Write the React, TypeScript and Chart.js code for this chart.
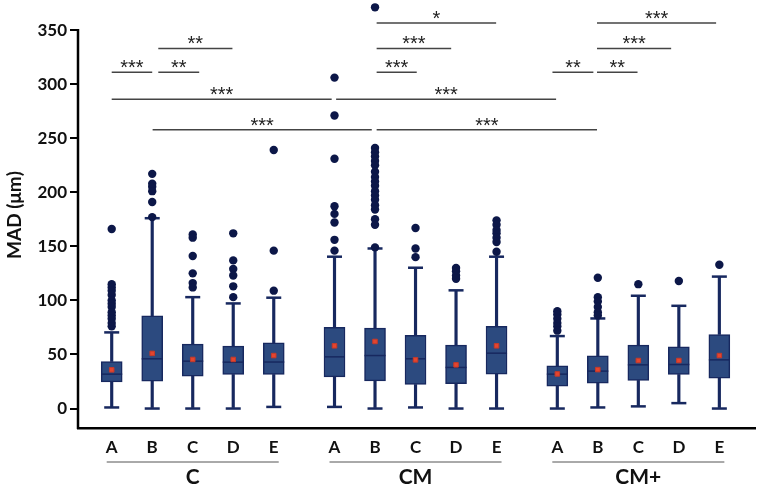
import React, { useEffect, useRef } from 'react';
import { Chart, registerables } from 'chart.js';
Chart.register(...registerables);

const groups = ['C', 'CM', 'CM+'];
const categories = ['A', 'B', 'C', 'D', 'E'];
const yTicks = [0, 50, 100, 150, 200, 250, 300, 350];
const yAxisTop = 350;

const lowerWhisker = [1, 0, 0, 0, 1.5, 1.5, 0, 1, 0, 0, 0, 1, 2, 5, 0];
const q1 = [24.7, 25.3, 30, 31.5, 31.5, 29.3, 25.6, 22.2, 23, 31.8, 20.7, 23.5, 26, 31.5, 28];
const median = [31.8, 46, 43.8, 42.9, 43, 47.8, 49, 46, 38, 51.2, 31.8, 34.6, 40.4, 40.7, 45];
const q3 = [43.5, 85.8, 59.6, 57.7, 60.8, 75, 74.4, 67.6, 58.6, 76, 39.5, 48.8, 58.6, 57, 68.5];
const upperWhisker = [70.4, 176, 103, 97.2, 102.5, 140.4, 148, 130.2, 109.3, 140.4, 67, 83.3, 104.3, 95, 122];
const means = [35.8, 51, 45.4, 45.4, 49, 58, 62, 45, 40.4, 58, 32, 36, 44.4, 44.4, 49];
const outliers = [
  [166, 115, 112, 109, 105, 100, 97, 94, 89, 86, 83, 79, 76],
  [217, 208, 205, 201, 191, 177],
  [161, 158, 141, 125, 116, 112],
  [162, 137, 129, 123, 113, 103],
  [239, 146, 109],
  [306, 271, 231, 187, 180, 172, 156, 146],
  [371, 241, 237, 233, 229, 225, 219, 214, 210, 206, 201, 197, 193, 188, 184, 175, 170, 149],
  [167, 148, 140],
  [130, 127, 123, 120],
  [174, 170, 165, 162, 158, 154, 145],
  [90, 87, 83, 79, 76, 72],
  [121, 103, 99, 94, 89, 86],
  [115],
  [118],
  [133],
];

// significance brackets (x in category-position units, y in MAD units)
const sigFrom = [0, 1.15, 1.15, 0, 5.54, 1.01, 6.54, 6.54, 6.54, 6.54, 10.88, 11.98, 11.98, 11.98];
const sigTo = [1.0, 2.16, 2.98, 5.43, 10.97, 6.42, 11.98, 7.53, 8.38, 9.49, 11.89, 12.98, 13.81, 14.92];
const sigY = [311, 311, 333, 286, 286, 257.7, 257.7, 311, 333, 356.5, 311, 311, 333, 356.5];
const sigLabel = ['***', '**', '**', '***', '***', '***', '***', '***', '***', '*', '**', '**', '***', '***'];

const pos = (i: number) => Math.floor(i / 5) * 5.5 + (i % 5);
const idx = lowerWhisker.map((_, i) => i);
const positions = idx.map(pos);

const NAVY = '#17285f';
const FONT = 'Lato, "Open Sans", sans-serif';

const overlay = {
  id: 'overlay',
  beforeDatasetsDraw(chart: any) {
    const { ctx, scales, chartArea } = chart;
    ctx.save();
    ctx.strokeStyle = '#000';
    ctx.lineWidth = 2.5;
    ctx.beginPath();
    ctx.moveTo(chartArea.left, scales.y.getPixelForValue(yAxisTop) - 1);
    ctx.lineTo(chartArea.left, chartArea.bottom + 1);
    ctx.stroke();
    ctx.restore();
  },
  afterDraw(chart: any) {
    const { ctx, scales } = chart;
    const xs = scales.x;
    const ys = scales.y;
    ctx.save();
    // significance brackets
    ctx.strokeStyle = '#444';
    ctx.lineWidth = 1.5;
    ctx.fillStyle = '#222';
    ctx.font = '20px "Liberation Sans", Arial, sans-serif';
    ctx.textAlign = 'center';
    ctx.textBaseline = 'alphabetic';
    sigFrom.forEach((f, k) => {
      const x1 = xs.getPixelForValue(f);
      const x2 = xs.getPixelForValue(sigTo[k]);
      const y = ys.getPixelForValue(sigY[k]);
      ctx.beginPath();
      ctx.moveTo(x1, y);
      ctx.lineTo(x2, y);
      ctx.stroke();
      ctx.fillText(sigLabel[k], (x1 + x2) / 2, y + 2);
    });
    // group underline + labels
    ctx.strokeStyle = '#555';
    ctx.lineWidth = 1;
    ctx.fillStyle = '#111';
    ctx.font = `bold 21px ${FONT}`;
    ctx.textBaseline = 'middle';
    groups.forEach((g, gi) => {
      const xa = xs.getPixelForValue(pos(gi * 5));
      const xe = xs.getPixelForValue(pos(gi * 5 + 4));
      const xc = xs.getPixelForValue(pos(gi * 5 + 2));
      const yl = chart.chartArea.bottom + 34;
      ctx.beginPath();
      ctx.moveTo(xa - 5, yl);
      ctx.lineTo(xe + 5, yl);
      ctx.stroke();
      ctx.fillText(g, xc, yl + 15);
    });
    // y title
    ctx.font = `bold 19px ${FONT}`;
    ctx.translate(15, 215);
    ctx.rotate(-Math.PI / 2);
    ctx.fillText('MAD (μm)', 0, 0);
    ctx.restore();
  },
};

export default function App() {
  const ref = useRef<HTMLCanvasElement>(null);
  useEffect(() => {
    document.body.style.margin = '0';
    const chart = new Chart(ref.current as HTMLCanvasElement, {
      type: 'bar',
      data: {
        datasets: [
          {
            type: 'bar',
            data: idx.map((i) => ({ x: positions[i], y: [q1[i], q3[i]] })) as any,
            backgroundColor: '#2c4a7f',
            borderColor: NAVY,
            borderWidth: 1.5,
            borderSkipped: false,
            barThickness: 21,
            grouped: false,
            order: 2,
          } as any,
          {
            type: 'bar',
            data: idx.map((i) => ({ x: positions[i], y: [lowerWhisker[i], q1[i]] })) as any,
            backgroundColor: NAVY,
            borderWidth: 0,
            barThickness: 2.5,
            grouped: false,
            order: 3,
          } as any,
          {
            type: 'bar',
            data: idx.map((i) => ({ x: positions[i], y: [q3[i], upperWhisker[i]] })) as any,
            backgroundColor: NAVY,
            borderWidth: 0,
            barThickness: 2.5,
            grouped: false,
            order: 3,
          } as any,
          {
            type: 'scatter',
            data: idx.flatMap((i) => [
              { x: positions[i], y: lowerWhisker[i] },
              { x: positions[i], y: upperWhisker[i] },
            ]),
            pointStyle: 'line',
            pointRadius: 7.5,
            borderWidth: 2.5,
            borderColor: NAVY,
            order: 1,
          } as any,
          {
            type: 'scatter',
            data: idx.map((i) => ({ x: positions[i], y: median[i] })),
            pointStyle: 'line',
            pointRadius: 10.5,
            borderWidth: 1.5,
            borderColor: NAVY,
            order: 1,
          } as any,
          {
            type: 'scatter',
            data: idx.map((i) => ({ x: positions[i], y: means[i] })),
            pointStyle: 'rect',
            pointRadius: 3.2,
            backgroundColor: '#e4452f',
            borderColor: '#c43a2a',
            borderWidth: 1,
            order: 0,
          } as any,
          {
            type: 'scatter',
            data: idx.flatMap((i) => outliers[i].map((v) => ({ x: positions[i], y: v }))),
            pointStyle: 'circle',
            pointRadius: 4.2,
            backgroundColor: '#0c1748',
            borderWidth: 0,
            order: 0,
          } as any,
        ],
      },
      options: {
        responsive: false,
        animation: false,
        events: [],
        layout: { autoPadding: false, padding: { top: 3, right: 3, left: 0, bottom: 0 } },
        plugins: { legend: { display: false }, tooltip: { enabled: false } },
        scales: {
          x: {
            type: 'linear',
            min: -0.832,
            max: 15.88,
            offset: false,
            afterBuildTicks: (s: any) => {
              s.ticks = positions.map((v) => ({ value: v }));
            },
            afterFit: (s: any) => {
              s.height = 60;
              s.paddingLeft = 0;
              s.paddingRight = 0;
            },
            grid: { display: false, drawTicks: false },
            border: { display: true, color: '#000', width: 2.5 },
            ticks: {
              autoSkip: false,
              maxRotation: 0,
              padding: 9,
              color: '#111',
              font: { family: FONT, size: 17, weight: 'bold' },
              callback: (_v: any, i: number) => categories[i % 5],
            },
          },
          y: {
            type: 'linear',
            min: -18,
            max: 375,
            afterBuildTicks: (s: any) => {
              s.ticks = yTicks.map((v) => ({ value: v }));
            },
            afterFit: (s: any) => {
              s.width = 78;
              s.paddingTop = 0;
              s.paddingBottom = 0;
            },
            grid: { drawOnChartArea: false, drawTicks: true, tickLength: 8, color: '#000', lineWidth: 2 },
            border: { display: false },
            ticks: {
              padding: 3,
              color: '#111',
              font: { family: FONT, size: 17, weight: 'bold', lineHeight: 0.2 },
            },
          },
        },
      } as any,
      plugins: [overlay],
    });
    return () => chart.destroy();
  }, []);
  return (
    <div style={{ width: 758, height: 488 }}>
      <canvas ref={ref} width={758} height={488} style={{ display: 'block' }} />
    </div>
  );
}
